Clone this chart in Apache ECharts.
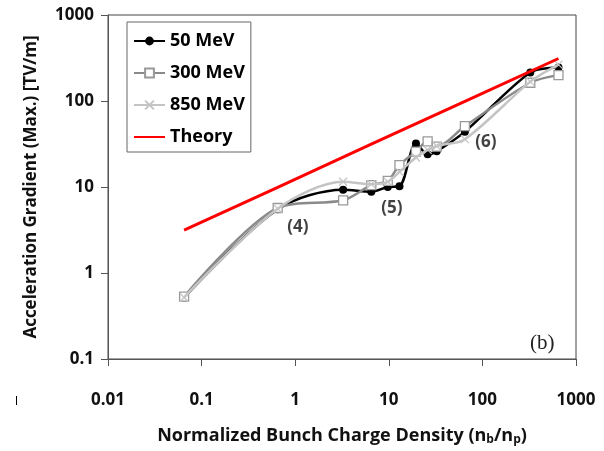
<!DOCTYPE html>
<html>
<head>
<meta charset="utf-8">
<script src="https://cdn.jsdelivr.net/npm/echarts@6/dist/echarts.min.js"></script>
<style>
  html, body { margin: 0; padding: 0; background: #fff; }
  #chart { width: 604px; height: 451px; }
</style>
</head>
<body>
<div id="chart"></div>
<script>
// bunch charge density n_b/n_p (same for all three energies)
const density = [0.065, 0.65, 3.25, 6.5, 9.75, 13, 19.5, 26, 32.5, 65, 325, 650];
const mev50  = [0.52, 5.5, 9.3, 8.8, 10, 10.2, 32, 24, 26, 44, 215, 245];
const mev300 = [0.53, 5.7, 7.0, 10.5, 11.8, 18, 25.8, 34, 29.5, 51, 163, 200];
const mev850 = [0.52, 5.6, 11.5, 10.8, 11.5, 15, 22, 27, 30, 36, 168, 265];

const theoryX = [0.065, 0.65, 6.5, 65, 650];
const theoryY = [3.15, 9.9, 31.5, 99, 312];

const notes = [
  { text: '(4)', x: 1.07, y: 3.4 },
  { text: '(5)', x: 10.8, y: 5.7 },
  { text: '(6)', x: 109, y: 33 }
];

const yTicks = [0.1, 1, 10, 100, 1000];

const FONT = '"Open Sans"';
const pair = (xs, ys) => xs.map((x, i) => [x, ys[i]]);
const plain = v => String(v);

const chart = echarts.init(document.getElementById('chart'));
chart.setOption({
  backgroundColor: '#fff',
  animation: false,
  grid: { left: 108, right: 28, top: 15, bottom: 81, show: true, borderColor: '#444', borderWidth: 1 },
  legend: {
    orient: 'vertical', left: 127, top: 22,
    padding: [8, 6, 4, 6], itemGap: 10, itemWidth: 31, itemHeight: 11,
    borderColor: '#666', borderWidth: 1, backgroundColor: '#fff',
    textStyle: { fontFamily: FONT, fontWeight: 'bold', fontSize: 18, color: '#000', lineHeight: 22 },
    data: ['50 MeV', '300 MeV', '850 MeV', { name: 'Theory', itemStyle: { opacity: 0 } }]
  },
  xAxis: {
    type: 'log', logBase: 10, min: 0.01, max: 1000,
    name: 'Normalized Bunch Charge Density (n{s|b}/n{s|p})',
    nameLocation: 'middle', nameGap: 66,
    nameTextStyle: {
      fontFamily: FONT, fontWeight: 'bold', fontSize: 18, color: '#111',
      rich: { s: { fontFamily: FONT, fontWeight: 'bold', fontSize: 12, color: '#111', verticalAlign: 'bottom', padding: [9, 0, 0, 0] } }
    },
    axisLine: { lineStyle: { color: '#555', width: 1 } },
    axisTick: { inside: false, length: 7, lineStyle: { color: '#555' } },
    minorTick: { show: false },
    splitLine: { show: false },
    axisLabel: { fontFamily: FONT, fontWeight: 'bold', fontSize: 17, color: '#111', margin: 33, formatter: plain }
  },
  yAxis: {
    type: 'log', logBase: 10, min: yTicks[0], max: yTicks[yTicks.length - 1],
    name: 'Acceleration Gradient (Max.) [TV/m]',
    nameLocation: 'middle', nameGap: 68,
    nameTextStyle: { fontFamily: FONT, fontWeight: 'bold', fontSize: 17, color: '#111' },
    axisLine: { show: true, lineStyle: { color: '#555', width: 1 } },
    axisTick: { show: true, inside: false, length: 7, lineStyle: { color: '#555' } },
    splitLine: { show: false },
    axisLabel: { fontFamily: FONT, fontWeight: 'bold', fontSize: 17, color: '#111', margin: 14, formatter: plain }
  },
  graphic: [
    { type: 'text', left: 530, top: 333, style: { text: '(b)', font: '21px "Liberation Serif"', fill: '#222' } },
    { type: 'rect', shape: { x: 16, y: 396, width: 1, height: 9 }, style: { fill: '#000' } }
  ],
  series: [
    {
      name: '50 MeV', type: 'line', smooth: 0.3, z: 3,
      data: pair(density, mev50),
      symbol: 'circle', symbolSize: 8,
      lineStyle: { color: '#000', width: 2.5 },
      itemStyle: { color: '#000' }
    },
    {
      name: '300 MeV', type: 'line', smooth: 0.3, z: 4,
      data: pair(density, mev300),
      symbol: 'rect', symbolSize: 9,
      lineStyle: { color: '#8a8a8a', width: 2.5 },
      itemStyle: { color: '#fff', borderColor: '#999', borderWidth: 1.3 }
    },
    {
      name: '850 MeV', type: 'line', smooth: 0.3, z: 5,
      data: pair(density, mev850),
      symbol: 'path://M0,0L10,10M10,0L0,10', symbolSize: 8,
      lineStyle: { color: '#c4c4c4', width: 2.5 },
      itemStyle: { color: 'rgba(0,0,0,0)', borderColor: '#c4c4c4', borderWidth: 1.3 }
    },
    {
      name: 'Theory', type: 'line', z: 6,
      data: pair(theoryX, theoryY),
      symbol: 'none',
      lineStyle: { color: '#ff0000', width: 3 },
      itemStyle: { color: '#ff0000' }
    },
    {
      type: 'scatter', z: 7, symbolSize: 0, silent: true,
      data: notes.map(n => ({ value: [n.x, n.y], name: n.text })),
      label: {
        show: true, position: 'inside', formatter: p => p.name,
        fontFamily: FONT, fontWeight: 'bold', fontSize: 17, color: '#111'
      }
    }
  ]
});
</script>
</body>
</html>
